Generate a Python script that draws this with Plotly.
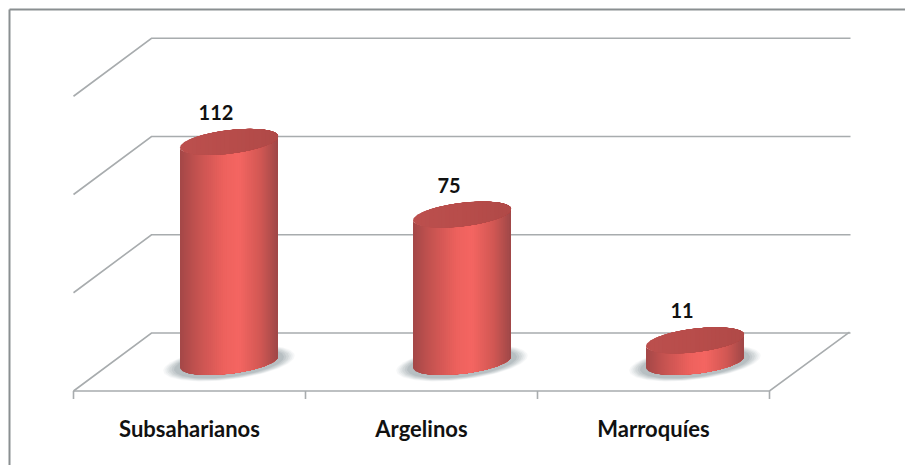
import numpy as np
import plotly.graph_objects as go

categories = ["Subsaharianos", "Argelinos", "Marroquíes"]
values = [112, 75, 11]
grid_values = [0, 50, 100, 150]

OFF = 8  # the page adds this margin around the figure
W, H = 913 - OFF, 465 - OFF
PX_CAT = 233.0
PX_VAL = 1.965
ZERO_PX = 362.0 - OFF
CENTER0_PX = 229.0 - OFF
FLOOR_PX = 391.0 - OFF
BOTTOM_PX = 402.0 - OFF
DX = 39 / PX_CAT      # depth shift, category units
DY = 29 / PX_VAL      # depth shift, value units
R = 49 / PX_CAT       # cylinder radius
EB = 11.8 / PX_VAL    # ellipse minor
ES = 5.6 / PX_VAL     # ellipse tilt

GRID = "#a8acae"
FONT = "Lato"

fig = go.Figure()


def proj(c, v, d=0.0):
    return c + DX * d, v + DY * d


def line(xs, ys, color=GRID, width=1.6):
    fig.add_trace(go.Scatter(x=xs, y=ys, mode="lines", hoverinfo="skip", showlegend=False,
                             cliponaxis=False, line=dict(color=color, width=width)))


def poly(xs, ys, color, opacity=1.0):
    fig.add_trace(go.Scatter(x=xs, y=ys, mode="lines", fill="toself", fillcolor=color,
                             opacity=opacity, hoverinfo="skip", showlegend=False, cliponaxis=False,
                             line=dict(color=color, width=0)))


def mix(stops, t):
    ts = [s[0] for s in stops]
    return "rgb(%d,%d,%d)" % tuple(np.interp(t, ts, [s[1][k] for s in stops]) for k in range(3))


left, right = -0.5, 2.5 - 3 / PX_CAT
step = (right - left) / 3
# walls and grid
for g in grid_values:
    x0, y0 = proj(left, g, -1)
    x1, y1 = proj(left, g, 1)
    x2, y2 = proj(right, g, 1)
    line([x0, x1, x2 + 3 / PX_CAT], [y0, y1, y2])
# floor
xa, ya = proj(left, 0, -1)
xb, yb = proj(right, 0, -1)
xc, yc = proj(right, 0, 1)
line([xa, xb, xc + 2 / PX_CAT], [ya, yb, yc + 0.5])
# tick marks
for k in range(4):
    xt, yt = proj(left + k * step, 0, -1)
    line([xt, xt], [yt, yt - 8 / PX_VAL])

SIDE = [(0, (164, 72, 72)), (0.16, (194, 82, 80)), (0.45, (238, 98, 94)), (0.6, (245, 102, 98)),
        (0.82, (210, 88, 84)), (1, (158, 72, 72))]
TOP = [(0, (188, 80, 78)), (0.5, (184, 77, 75)), (1, (176, 74, 72))]

t = np.linspace(0, 2 * np.pi, 121)
for c, v in enumerate(values):
    # soft shadow on the floor
    for f, op in [(1.34, .06), (1.30, .08), (1.26, .10), (1.22, .12), (1.17, .14), (1.12, .18)]:
        poly(c + R * f * np.cos(t), f * (-EB * 1.05 * np.sin(t) + ES * np.cos(t)) - 0.6,
             "#7a8a90", op)
    # side surface: strips painted left to right, each running to the right edge
    n = 48
    edges = np.linspace(-1, 1, n + 1)
    for j in range(n):
        th = np.linspace(np.arccos(edges[j]), 0, max(4, (n - j) * 2))
        u, s = np.cos(th), np.sin(th)
        front = -EB * s + ES * u
        xs = np.concatenate([c + R * u, c + R * u[::-1]])
        ys = np.concatenate([v + front, front[::-1]])
        poly(xs, ys, mix(SIDE, (j + .5) / n))
    # top face
    m = 24
    edges = np.linspace(-1, 1, m + 1)
    for j in range(m):
        th = np.linspace(np.arccos(edges[j]), 0, max(6, (m - j) * 4))
        u, s = np.cos(th), np.sin(th)
        xs = np.concatenate([c + R * u, c + R * u[::-1]])
        ys = np.concatenate([v + ES * u + EB * s, (v + ES * u - EB * s)[::-1]])
        poly(xs, ys, mix(TOP, (j + .5) / m))

# value labels
fig.add_trace(go.Scatter(
    x=[c - 13 / PX_CAT for c in range(3)],
    y=[v + 27 / PX_VAL for v in values],
    mode="text", text=[str(v) for v in values], textposition="middle center",
    textfont=dict(family=FONT, size=20, color="#111111", weight="bold"),
    hoverinfo="skip", showlegend=False, cliponaxis=False))

xr = [(0 - CENTER0_PX) / PX_CAT, (W - CENTER0_PX) / PX_CAT]
yr = [(ZERO_PX - BOTTOM_PX) / PX_VAL, ZERO_PX / PX_VAL]

bx, by = 9.5 - OFF, 9.5 - OFF
fig.update_layout(
    width=W, height=H, autosize=False,
    margin=dict(l=0, r=0, t=0, b=H - BOTTOM_PX, pad=0),
    paper_bgcolor="white", plot_bgcolor="white",
    xaxis=dict(range=xr, showgrid=False, zeroline=False, showline=False,
               tickmode="array", tickvals=[left + (k + .5) * step - DX for k in range(3)],
               ticktext=categories,
               ticks="outside", ticklen=8, tickcolor="rgba(0,0,0,0)",
               tickfont=dict(family=FONT, size=22, color="#111111", weight="bold")),
    yaxis=dict(range=yr, visible=False),
    shapes=[
        dict(type="line", xref="paper", yref="paper", x0=bx / W, x1=1,
             y0=(BOTTOM_PX - by) / BOTTOM_PX, y1=(BOTTOM_PX - by) / BOTTOM_PX,
             line=dict(color="#8a8f91", width=2)),
        dict(type="line", xref="paper", yref="paper", x0=bx / W, x1=bx / W,
             y0=(BOTTOM_PX - by) / BOTTOM_PX, y1=(BOTTOM_PX - H) / BOTTOM_PX,
             line=dict(color="#8a8f91", width=2)),
    ],
)
fig.write_html("out.html")
